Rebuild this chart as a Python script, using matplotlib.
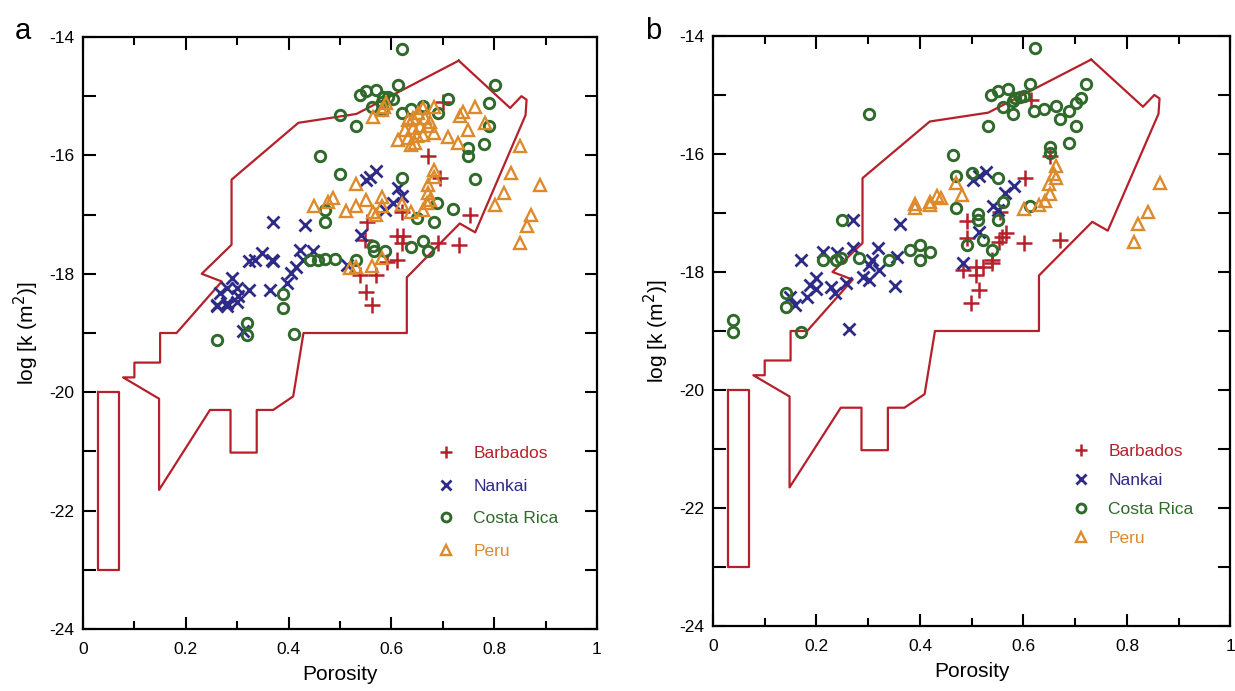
import matplotlib

matplotlib.use("Agg")
import matplotlib.pyplot as plt
from matplotlib.ticker import MultipleLocator, FuncFormatter

plt.rcParams["font.family"] = ["Liberation Sans", "DejaVu Sans"]

RED = "#b5212b"
NAVY = "#2e2a88"
GREEN = "#2f6a2a"
ORANGE = "#dc8a2c"

# envelope of published data (same in both panels)
env_x = [0.731, 0.831, 0.853, 0.863, 0.861, 0.763, 0.733, 0.630, 0.630, 0.429,
         0.409, 0.370, 0.338, 0.338, 0.287, 0.287, 0.247, 0.148, 0.148, 0.078,
         0.100, 0.100, 0.150, 0.150, 0.182, 0.270, 0.231, 0.289, 0.289, 0.419,
         0.532, 0.731]
env_y = [-14.40, -15.20, -15.00, -15.06, -15.32, -17.30, -17.15, -18.06, -19.00, -19.00,
         -20.07, -20.30, -20.30, -21.02, -21.02, -20.30, -20.30, -21.65, -20.11, -19.75,
         -19.75, -19.50, -19.50, -19.00, -19.00, -18.13, -18.00, -17.51, -16.41, -15.45,
         -15.30, -14.40]
box_x = [0.03, 0.07, 0.07, 0.03, 0.03]
box_y = [-20.0, -20.0, -23.0, -23.0, -20.0]

# panel a
a_barb_x = [0.700, 0.672, 0.695, 0.620, 0.622, 0.610, 0.620, 0.552, 0.549, 0.753,
            0.691, 0.732, 0.610, 0.591, 0.570, 0.539, 0.551, 0.562]
a_barb_y = [-15.09, -16.01, -16.39, -16.96, -17.37, -17.36, -17.48, -17.12, -17.43, -17.00,
            -17.48, -17.51, -17.76, -17.80, -18.02, -18.02, -18.31, -18.52]

a_nank_x = [0.570, 0.558, 0.551, 0.613, 0.620, 0.604, 0.588, 0.370, 0.432, 0.541,
            0.422, 0.448, 0.428, 0.415, 0.405, 0.396, 0.348, 0.367, 0.335, 0.322,
            0.370, 0.364, 0.322, 0.299, 0.302, 0.280, 0.289, 0.267, 0.260, 0.280,
            0.513, 0.312, 0.260, 0.280, 0.299]
a_nank_y = [-16.27, -16.36, -16.42, -16.55, -16.68, -16.81, -16.92, -17.12, -17.17, -17.34,
            -17.59, -17.62, -17.76, -17.88, -17.99, -18.16, -17.65, -17.76, -17.76, -17.79,
            -17.79, -18.27, -18.27, -18.24, -18.38, -18.24, -18.07, -18.33, -18.55, -18.55,
            -17.85, -18.97, -18.52, -18.49, -18.47]

a_cr_x = [0.620, 0.539, 0.551, 0.570, 0.612, 0.584, 0.594, 0.604, 0.581, 0.562,
          0.583, 0.620, 0.639, 0.662, 0.691, 0.711, 0.500, 0.531, 0.802, 0.790,
          0.790, 0.781, 0.750, 0.750, 0.461, 0.500, 0.620, 0.763, 0.471, 0.471,
          0.689, 0.720, 0.650, 0.682, 0.564, 0.566, 0.588, 0.639, 0.662, 0.672,
          0.442, 0.458, 0.471, 0.490, 0.531, 0.389, 0.389, 0.320, 0.320, 0.261,
          0.411]
a_cr_y = [-14.21, -14.98, -14.92, -14.89, -14.81, -15.01, -15.01, -15.04, -15.09, -15.19,
          -15.23, -15.28, -15.22, -15.16, -15.29, -15.04, -15.32, -15.51, -14.81, -15.11,
          -15.51, -15.81, -15.88, -16.01, -16.01, -16.31, -16.39, -16.40, -16.92, -17.12,
          -16.81, -16.90, -17.06, -17.12, -17.53, -17.62, -17.62, -17.54, -17.44, -17.61,
          -17.76, -17.76, -17.75, -17.75, -17.76, -18.34, -18.58, -18.83, -19.03, -19.11,
          -19.02]

a_peru_x = [0.589, 0.581, 0.565, 0.585, 0.662, 0.682, 0.652, 0.633, 0.643, 0.665,
            0.675, 0.626, 0.643, 0.656, 0.672, 0.682, 0.613, 0.633, 0.649, 0.662,
            0.639, 0.646, 0.733, 0.740, 0.763, 0.750, 0.782, 0.711, 0.730, 0.851,
            0.832, 0.890, 0.819, 0.802, 0.871, 0.863, 0.851, 0.682, 0.682, 0.672,
            0.672, 0.675, 0.669, 0.662, 0.531, 0.581, 0.551, 0.620, 0.639, 0.487,
            0.477, 0.450, 0.531, 0.512, 0.565, 0.581, 0.570, 0.581, 0.562, 0.531,
            0.519]
a_peru_y = [-15.12, -15.23, -15.36, -15.18, -15.20, -15.18, -15.29, -15.40, -15.37, -15.37,
            -15.43, -15.57, -15.54, -15.51, -15.51, -15.63, -15.74, -15.71, -15.68, -15.65,
            -15.82, -15.79, -15.34, -15.26, -15.18, -15.57, -15.46, -15.69, -15.79, -15.84,
            -16.29, -16.50, -16.63, -16.84, -17.00, -17.19, -17.48, -16.24, -16.36, -16.50,
            -16.64, -16.75, -16.81, -16.92, -16.48, -16.70, -16.76, -16.82, -16.95, -16.72,
            -16.78, -16.85, -16.86, -16.94, -16.95, -16.86, -17.00, -17.74, -17.87, -17.88,
            -17.90]

# panel b
b_barb_x = [0.615, 0.651, 0.603, 0.554, 0.490, 0.566, 0.559, 0.553, 0.602, 0.671,
            0.540, 0.540, 0.522, 0.509, 0.483, 0.509, 0.514, 0.499, 0.490]
b_barb_y = [-15.08, -16.03, -16.41, -16.98, -17.13, -17.34, -17.40, -17.49, -17.51, -17.46,
            -17.80, -17.85, -17.91, -17.91, -17.97, -18.05, -18.31, -18.53, -17.43]

b_nank_x = [0.528, 0.515, 0.503, 0.581, 0.564, 0.541, 0.551, 0.514, 0.483, 0.270,
            0.362, 0.351, 0.171, 0.213, 0.239, 0.271, 0.319, 0.355, 0.308, 0.302,
            0.321, 0.290, 0.302, 0.200, 0.187, 0.199, 0.229, 0.236, 0.258, 0.181,
            0.158, 0.149, 0.263]
b_nank_y = [-16.30, -16.38, -16.44, -16.55, -16.67, -16.89, -16.95, -17.33, -17.85, -17.12,
            -17.18, -18.24, -17.80, -17.66, -17.68, -17.60, -17.60, -17.74, -17.80, -17.88,
            -17.97, -18.08, -18.14, -18.11, -18.22, -18.28, -18.25, -18.36, -18.19, -18.42,
            -18.56, -18.42, -18.97]

b_cr_x = [0.622, 0.538, 0.551, 0.570, 0.612, 0.583, 0.593, 0.602, 0.580, 0.560,
          0.580, 0.620, 0.639, 0.662, 0.670, 0.689, 0.701, 0.712, 0.721, 0.701,
          0.532, 0.689, 0.651, 0.651, 0.302, 0.463, 0.470, 0.501, 0.551, 0.470,
          0.560, 0.512, 0.512, 0.551, 0.613, 0.250, 0.490, 0.521, 0.540, 0.380,
          0.401, 0.419, 0.401, 0.213, 0.237, 0.248, 0.283, 0.340, 0.141, 0.141,
          0.038, 0.038, 0.171]
b_cr_y = [-14.21, -15.00, -14.93, -14.90, -14.81, -15.06, -15.03, -15.02, -15.11, -15.21,
          -15.32, -15.28, -15.23, -15.19, -15.40, -15.28, -15.13, -15.06, -14.81, -15.53,
          -15.53, -15.82, -15.89, -15.99, -15.32, -16.02, -16.38, -16.32, -16.40, -16.92,
          -16.81, -17.01, -17.12, -17.12, -16.89, -17.12, -17.54, -17.46, -17.62, -17.63,
          -17.54, -17.66, -17.79, -17.80, -17.80, -17.77, -17.77, -17.79, -18.35, -18.59,
          -18.82, -19.02, -19.02]

b_peru_x = [0.663, 0.660, 0.663, 0.650, 0.651, 0.641, 0.631, 0.602, 0.470, 0.482,
            0.390, 0.390, 0.419, 0.419, 0.432, 0.441, 0.863, 0.840, 0.821, 0.813]
b_peru_y = [-16.21, -16.34, -16.40, -16.51, -16.68, -16.79, -16.87, -16.93, -16.49, -16.69,
            -16.84, -16.92, -16.81, -16.86, -16.72, -16.75, -16.50, -16.99, -17.18, -17.49]

labels = ["Barbados", "Nankai", "Costa Rica", "Peru"]

panels = [
    ("a", [(a_barb_x, a_barb_y), (a_nank_x, a_nank_y), (a_cr_x, a_cr_y), (a_peru_x, a_peru_y)],
     [0.0672, 0.0897, 0.4162, 0.8568], (0.655, 0.335), 1.0),
    ("b", [(b_barb_x, b_barb_y), (b_nank_x, b_nank_y), (b_cr_x, b_cr_y), (b_peru_x, b_peru_y)],
     [0.5773, 0.0940, 0.4190, 0.8540], (0.66, 0.335), 0.8),
]


def fmt(v, pos):
    return "%g" % round(v, 2)


fig = plt.figure(figsize=(12.35, 6.91), dpi=100)
for letter, series, rect, leg_anchor, spacing in panels:
    ax = fig.add_axes(rect)
    ax.plot(env_x, env_y, color=RED, lw=1.6)
    ax.plot(box_x, box_y, color=RED, lw=1.6)

    (bx, by), (nx, ny), (cx, cy), (px, py) = series
    ax.plot(bx, by, ls="none", marker="+", ms=11, mew=1.8, color=RED, label=labels[0])
    ax.plot(nx, ny, ls="none", marker="x", ms=9, mew=2.0, color=NAVY, label=labels[1])
    ax.plot(cx, cy, ls="none", marker="o", ms=7.5, mew=2.1, mfc="none", mec=GREEN, label=labels[2])
    ax.plot(px, py, ls="none", marker="^", ms=9, mew=1.7, mfc="none", mec=ORANGE, label=labels[3])

    ax.set_xlim(0, 1)
    ax.set_ylim(-24, -14)
    ax.xaxis.set_major_locator(MultipleLocator(0.2))
    ax.xaxis.set_minor_locator(MultipleLocator(0.1))
    ax.yaxis.set_major_locator(MultipleLocator(2))
    ax.yaxis.set_minor_locator(MultipleLocator(1))
    ax.xaxis.set_major_formatter(FuncFormatter(fmt))
    ax.yaxis.set_major_formatter(FuncFormatter(fmt))
    ax.tick_params(which="both", direction="in", top=True, right=True, width=1.5, labelsize=12.5)
    ax.tick_params(axis="x", which="major", length=9, pad=9)
    ax.tick_params(axis="x", which="minor", length=6)
    ax.tick_params(axis="y", which="both", length=9, pad=6)
    for sp in ax.spines.values():
        sp.set_linewidth(1.6)

    ax.set_xlabel("Porosity", fontsize=15, labelpad=6)
    ax.set_ylabel("log [k (m$^{2}$)]", fontsize=15, labelpad=6)

    leg = ax.legend(loc="upper left", bbox_to_anchor=leg_anchor, frameon=False,
                    fontsize=12.5, handletextpad=1.0, labelspacing=spacing,
                    handlelength=1.2, markerscale=0.85)
    for txt, c in zip(leg.get_texts(), [RED, NAVY, GREEN, ORANGE]):
        txt.set_color(c)

    fig.text(rect[0] - 0.055, 0.955, letter, fontsize=21, ha="left", va="center")

fig.savefig("out.png", dpi=100)
